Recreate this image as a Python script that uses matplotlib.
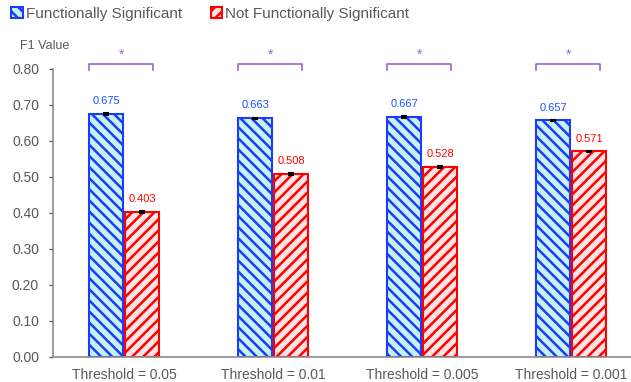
import matplotlib
matplotlib.use("Agg")
import matplotlib.pyplot as plt
from matplotlib.patches import Patch
import numpy as np

categories = ["Threshold = 0.05", "Threshold = 0.01", "Threshold = 0.005", "Threshold = 0.001"]
sig_values = [0.675, 0.663, 0.667, 0.657]
notsig_values = [0.403, 0.508, 0.528, 0.571]
sig_err = [0.002, 0.002, 0.002, 0.002]
notsig_err = [0.002, 0.002, 0.002, 0.002]
series_names = ["Functionally Significant", "Not Functionally Significant"]
yticks = [0.0, 0.1, 0.2, 0.3, 0.4, 0.5, 0.6, 0.7, 0.8]

plt.rcParams['font.family'] = ['Liberation Sans', 'DejaVu Sans']
plt.rcParams['hatch.linewidth'] = 1.8

gray = '#595959'
blue_edge = '#1a3cff'
blue_face = '#c8f2f0'
red_edge = '#ff0000'
red_face = '#ffe4e4'
blue_txt = '#2050ff'
purple = '#9966cc'

fig = plt.figure(figsize=(6.31, 3.82), dpi=100)
ax = fig.add_axes([53/631, 25/382, 1 - 53/631, (357-69)/382])

x = np.arange(len(categories))
w = 0.228
off = 0.121
bh = '\\' * 3
rh = '/' * 3

ax.bar(x - off, sig_values, w, color=blue_face, edgecolor=blue_edge, hatch=bh, linewidth=1.5)
ax.bar(x + off, notsig_values, w, color=red_face, edgecolor=red_edge, hatch=rh, linewidth=1.5)
ax.errorbar(x - off, sig_values, yerr=sig_err, fmt='none', ecolor='black', capsize=2.5, elinewidth=1, capthick=1.5)
ax.errorbar(x + off, notsig_values, yerr=notsig_err, fmt='none', ecolor='black', capsize=2.5, elinewidth=1, capthick=1.5)

for xi, v in zip(x - off, sig_values):
    ax.text(xi, v + 0.022, f"{v:.3f}", ha='center', va='bottom', fontsize=8, color=blue_txt)
for xi, v in zip(x + off, notsig_values):
    ax.text(xi, v + 0.022, f"{v:.3f}", ha='center', va='bottom', fontsize=8, color=red_edge)

# significance brackets
for xi in x:
    x0, x1 = xi - 0.235, xi + 0.195
    ax.plot([x0, x0, x1, x1], [0.796, 0.814, 0.814, 0.796], color=purple, lw=1.2, clip_on=False)
    ax.text((x0 + x1) / 2, 0.820, "*", ha='center', va='bottom', fontsize=10, color=purple)

ax.set_xlim(-0.477, 3.40)
ax.set_ylim(0, 0.80)
ax.set_yticks(yticks)
ax.set_yticklabels([f"{t:.2f}" for t in yticks])
ax.set_xticks(x)
ax.set_xticklabels(categories)
ax.tick_params(axis='y', colors=gray, labelsize=10, length=3, width=1, pad=7)
ax.tick_params(axis='x', colors=gray, labelsize=10, length=0, pad=8)
for lbl in ax.get_yticklabels() + ax.get_xticklabels():
    lbl.set_color(gray)
ax.spines['top'].set_visible(False)
ax.spines['right'].set_visible(False)
ax.spines['left'].set_color('#8c8c8c')
ax.spines['bottom'].set_color('#8c8c8c')
ax.spines['left'].set_linewidth(1.2)
ax.spines['bottom'].set_linewidth(1.2)

fig.text(20/631, 1 - 46/382, "F1 Value", fontsize=9, color=gray, va='center', ha='left')

handles = [Patch(facecolor=blue_face, edgecolor=blue_edge, hatch=bh, linewidth=1.5),
           Patch(facecolor=red_face, edgecolor=red_edge, hatch=rh, linewidth=1.5)]
leg = fig.legend(handles, series_names, loc='upper left', bbox_to_anchor=(8/631, 1 - 4/382),
                 ncol=2, frameon=False, fontsize=11, handlelength=0.75, handleheight=0.75,
                 handletextpad=0.2, columnspacing=1.9, borderaxespad=0, borderpad=0.2)
for t in leg.get_texts():
    t.set_color(gray)

fig.savefig("out.png", dpi=100)
